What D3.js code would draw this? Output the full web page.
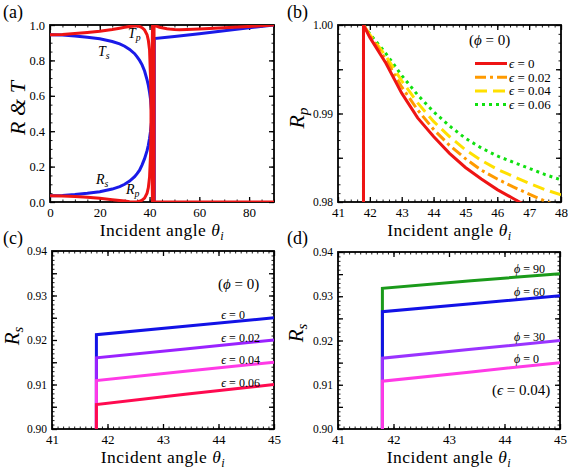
<!DOCTYPE html>
<html>
<head>
<meta charset="utf-8">
<script src="https://cdn.jsdelivr.net/npm/d3@7"></script>
<style>
body{margin:0;background:#fff}
svg text{font-family:"Liberation Serif","Times New Roman",serif;}
</style>
</head>
<body>
<script>
// SVG area
var svgWidth = 568;
var svgHeight = 470;

// ---------- (a) R & T, whole angle range ----------
var thetaA = [0, 5, 10, 15, 20, 25, 28, 30, 32, 34, 35, 36, 37, 38, 39, 39.5, 40, 40.4, 40.7, 41.0, 41.2];
var TsA = [0.945, 0.943, 0.938, 0.931, 0.922, 0.907, 0.893, 0.880, 0.862, 0.838, 0.820, 0.800, 0.775, 0.740, 0.690, 0.660, 0.620, 0.580, 0.530, 0.480, 0.440];
var RsA = [0.035, 0.037, 0.042, 0.049, 0.058, 0.073, 0.087, 0.100, 0.118, 0.143, 0.160, 0.180, 0.210, 0.245, 0.290, 0.320, 0.360, 0.400, 0.440, 0.480, 0.520];
var TpA = [0.945, 0.947, 0.952, 0.958, 0.965, 0.975, 0.982, 0.987, 0.992, 0.995, 0.995, 0.992, 0.985, 0.972, 0.945, 0.915, 0.860, 0.700, 0.450, 0.150, 0.000];
var RpA = [0.035, 0.034, 0.031, 0.027, 0.021, 0.013, 0.008, 0.005, 0.002, 0.000, 0.001, 0.004, 0.010, 0.022, 0.050, 0.080, 0.140, 0.270, 0.500, 0.800, 1.000];
// beyond the critical angle
var thetaRpPost = [41.8, 41.8, 42.4, 43, 44, 45, 46, 47, 48, 50, 52, 55, 60, 70, 80, 90];
var RpPost = [0, 1.0, 0.996, 0.992, 0.9874, 0.984, 0.9814, 0.979, 0.977, 0.974, 0.973, 0.974, 0.977, 0.984, 0.992, 1.0];
var thetaRsPost = [41.9, 41.9, 50, 60, 70, 80, 90];
var RsPost = [0, 0.923, 0.935, 0.951, 0.967, 0.984, 1.0];
var thetaTPost = [41.2, 90];
var TPost = [0, 0];

// ---------- (b) Rp near critical angle, phi = 0 ----------
var thetaB = [41.8, 41.8, 42, 42.5, 43, 43.5, 44, 44.5, 45, 45.5, 46, 46.5, 47, 47.5, 48];
var RpEps0 = [0.97, 1.0, 0.9986, 0.9957, 0.9923, 0.9895, 0.9874, 0.9855, 0.9839, 0.9826, 0.9814, 0.9804, 0.9794, 0.9786, 0.9778];
var RpEps2 = [0.97, 1.0, 0.9988, 0.9961, 0.9930, 0.9904, 0.9882, 0.9864, 0.9849, 0.9836, 0.9826, 0.9817, 0.9809, 0.9801, 0.9794];
var RpEps4 = [0.97, 1.0, 0.9989, 0.9965, 0.9937, 0.9912, 0.9891, 0.9874, 0.9859, 0.9847, 0.9837, 0.9829, 0.9821, 0.9814, 0.9808];
var RpEps6 = [0.97, 1.0, 0.9990, 0.9968, 0.9943, 0.9921, 0.9902, 0.9886, 0.9872, 0.9861, 0.9852, 0.9845, 0.9838, 0.9831, 0.9825];
var epsLabelsB = ["0", "0.02", "0.04", "0.06"];

// ---------- (c), (d) Rs near critical angle ----------
var thetaCD = [41.8, 41.8, 43.4, 45];
var RsEps0 = [0.899, 0.9212, 0.9231, 0.9250];
var RsEps2 = [0.899, 0.9160, 0.9180, 0.9200];
var RsEps4 = [0.899, 0.9109, 0.9130, 0.9150];
var RsEps6 = [0.899, 0.9055, 0.9078, 0.9100];
var epsLabelsC = ["0", "0.02", "0.04", "0.06"];
var RsPhi90 = [0.899, 0.9318, 0.9335, 0.9351];
var RsPhi60 = [0.899, 0.9265, 0.9283, 0.9301];
var RsPhi30 = [0.899, 0.9160, 0.9180, 0.9200];
var RsPhi0 = [0.899, 0.9108, 0.9129, 0.9150];
var phiLabelsD = ["90", "60", "30", "0"];

var svg = d3.select("body").append("svg")
  .attr("width", svgWidth)
  .attr("height", svgHeight);

// make a framed panel with inward ticks on all four sides
function makePanel(id, box, xDom, yDom, opt) {
  var x = d3.scaleLinear().domain(xDom).range([box.l, box.r]);
  var y = d3.scaleLinear().domain(yDom).range([box.b, box.t]);
  var g = svg.append("g");

  svg.append("clipPath").attr("id", "clip" + id)
    .append("rect").attr("x", box.l).attr("y", box.t)
    .attr("width", box.r - box.l).attr("height", box.b - box.t);

  var axes = [
    [d3.axisBottom(x), "translate(0," + box.b + ")", opt.xMajor, opt.xMinor, opt.xFmt],
    [d3.axisTop(x), "translate(0," + box.t + ")", opt.xMajor, opt.xMinor, null],
    [d3.axisLeft(y), "translate(" + box.l + ",0)", opt.yMajor, opt.yMinor, opt.yFmt],
    [d3.axisRight(y), "translate(" + box.r + ",0)", opt.yMajor, opt.yMinor, null]
  ];
  axes.forEach(function(a, i) {
    // minor ticks
    g.append("g").attr("transform", a[1])
      .call(a[0].tickValues(a[3]).tickSize(-2.5).tickFormat(""))
      .call(s => s.select(".domain").remove())
      .selectAll("line").attr("stroke-width", 0.9);
    // major ticks + labels
    var ax = g.append("g").attr("transform", a[1])
      .call(a[0].tickValues(a[2]).tickSize(-5).tickPadding(i < 2 ? 6 : 5)
        .tickFormat(a[4] ? a[4] : ""))
      .call(s => s.select(".domain").remove());
    ax.selectAll("line").attr("stroke-width", 1.3);
    ax.selectAll("text").attr("font-size", i < 2 ? opt.xFs : opt.yFs).attr("fill", "#000");
  });

  g.append("rect").attr("x", box.l).attr("y", box.t)
    .attr("width", box.r - box.l).attr("height", box.b - box.t)
    .attr("fill", "none").attr("stroke", "#000").attr("stroke-width", 1.8);

  var plot = svg.append("g").attr("clip-path", "url(#clip" + id + ")");
  return { x: x, y: y, plot: plot, box: box };
}

function drawLine(p, xs, ys, color, width, dash) {
  var line = d3.line().x(d => p.x(d[0])).y(d => p.y(d[1]));
  p.plot.append("path")
    .datum(d3.zip(xs, ys))
    .attr("d", line)
    .attr("fill", "none")
    .attr("stroke", color)
    .attr("stroke-width", width)
    .attr("stroke-dasharray", dash || null);
}

// text made of pieces: [string, "i" | "n" | "sub"]
function mathText(parent, x, y, parts, size, anchor, rotate) {
  var t = parent.append("text")
    .attr("x", x).attr("y", y)
    .attr("font-size", size)
    .attr("text-anchor", anchor || "start")
    .attr("fill", "#000");
  if (rotate) t.attr("transform", "rotate(-90," + x + "," + y + ")");
  var shift = 0;
  parts.forEach(function(pt) {
    var s = t.append("tspan").text(pt[0]);
    if (pt[1] === "i" || pt[1] === "sub") s.attr("font-style", "italic");
    if (pt[1] === "sub") {
      s.attr("font-size", size * 0.7).attr("dy", size * 0.2 - shift);
      shift = size * 0.2;
    } else if (shift) {
      s.attr("dy", -shift);
      shift = 0;
    }
  });
  return t;
}

function xLabel(p, baseY) {
  mathText(svg, (p.box.l + p.box.r) / 2, baseY,
    [["Incident angle ", "n"], ["\u03b8", "i"], ["i", "sub"]], 17.5, "middle")
    .attr("letter-spacing", 0.5);
}

// ---------- panel (a) ----------
var pa = makePanel("a", {l: 50, r: 274, t: 25, b: 202}, [0, 90], [0, 1], {
  xMajor: [0, 20, 40, 60, 80], xMinor: d3.range(0, 91, 5), xFmt: d3.format("d"), xFs: 13,
  yMajor: [0, 0.2, 0.4, 0.6, 0.8, 1.0], yMinor: d3.range(0, 1.001, 0.05), yFmt: d3.format(".1f"), yFs: 12.5
});
var blue = "#1a1ae8", red = "#ee1414";
drawLine(pa, thetaA, TsA, blue, 3);
drawLine(pa, thetaA, RsA, blue, 3);
drawLine(pa, thetaRsPost, RsPost, blue, 3);
drawLine(pa, thetaA, TpA, red, 3);
drawLine(pa, thetaA, RpA, red, 3);
drawLine(pa, thetaTPost, TPost, red, 3);
drawLine(pa, thetaRpPost, RpPost, red, 3);
mathText(svg, 128, 38, [["T", "i"], ["p", "sub"]], 14);
mathText(svg, 98, 56, [["T", "i"], ["s", "sub"]], 14);
mathText(svg, 96, 184, [["R", "i"], ["s", "sub"]], 14);
mathText(svg, 126, 194, [["R", "i"], ["p", "sub"]], 14);
mathText(svg, 25, 108, [["R", "i"], [" & ", "i"], ["T", "i"]], 22, "middle", true);
xLabel(pa, 236);

// ---------- panel (b) ----------
var pb = makePanel("b", {l: 338, r: 561, t: 25, b: 202}, [41, 48], [0.98, 1.0], {
  xMajor: d3.range(41, 48.01, 1), xMinor: d3.range(41, 48.01, 0.2), xFmt: d3.format("d"), xFs: 13,
  yMajor: [0.98, 0.985, 0.99, 0.995, 1.0], yMinor: d3.range(0.98, 1.0001, 0.001),
  yFmt: d => (Math.abs(d * 100 - Math.round(d * 100)) < 1e-6 ? d.toFixed(2) : ""), yFs: 11.5
});
var bColors = ["#ee1414", "#ff9a00", "#ffe000", "#10e010"];
var bDash = [null, "11,4,3,4", "12,6", "3,4"];
var bSeries = [RpEps0, RpEps2, RpEps4, RpEps6];
for (var i = 3; i >= 0; i--) drawLine(pb, thetaB, bSeries[i], bColors[i], 3, bDash[i]);
mathText(svg, 469, 45, [["(", "n"], ["\u03d5", "i"], [" = 0)", "n"]], 15);
epsLabelsB.forEach(function(lab, i) {
  var ly = 63.5 + i * 13.7;
  svg.append("line").attr("x1", 475).attr("x2", 507).attr("y1", ly).attr("y2", ly)
    .attr("stroke", bColors[i]).attr("stroke-width", 3).attr("stroke-dasharray", bDash[i]);
  mathText(svg, 509, ly + 4.5, [["\u03f5", "i"], [" = " + lab, "n"]], 13);
});
mathText(svg, 304, 118, [["R", "i"], ["p", "sub"]], 22, "middle", true);
xLabel(pb, 236);

// ---------- panel (c) ----------
var cdOpt = {
  xMajor: d3.range(41, 45.01, 1), xMinor: d3.range(41, 45.01, 0.1), xFmt: d3.format("d"), xFs: 13,
  yMajor: d3.range(0.90, 0.9401, 0.005), yMinor: d3.range(0.90, 0.9401, 0.001),
  yFmt: d => (Math.abs(d * 100 - Math.round(d * 100)) < 1e-6 ? d.toFixed(2) : ""), yFs: 11.5
};
var pc = makePanel("c", {l: 52, r: 274, t: 251, b: 429}, [41, 45], [0.90, 0.94], cdOpt);
var cColors = ["#1212e6", "#9a22ff", "#ff3ae6", "#ff0a50"];
var cSeries = [RsEps0, RsEps2, RsEps4, RsEps6];
cSeries.forEach((s, i) => drawLine(pc, thetaCD, s, cColors[i], 3));
cSeries.forEach(function(s, i) {
  var lt = 44.05;
  var v = s[2] + (s[3] - s[2]) * (lt - thetaCD[2]) / (thetaCD[3] - thetaCD[2]);
  mathText(svg, pc.x(lt), pc.y(v) - 3.5, [["\u03f5", "i"], [" = " + epsLabelsC[i], "n"]], 12);
});
mathText(svg, 218, 289, [["(", "n"], ["\u03d5", "i"], [" = 0)", "n"]], 15);
mathText(svg, 19, 336, [["R", "i"], ["s", "sub"]], 21, "middle", true);
xLabel(pc, 463);

// ---------- panel (d) ----------
var pd = makePanel("d", {l: 338, r: 560, t: 252, b: 429}, [41, 45], [0.90, 0.94], cdOpt);
var dColors = ["#1a9a1a", "#1212e6", "#9a33ff", "#ff3ae6"];
var dSeries = [RsPhi90, RsPhi60, RsPhi30, RsPhi0];
dSeries.forEach((s, i) => drawLine(pd, thetaCD, s, dColors[i], 3));
dSeries.forEach(function(s, i) {
  var lt = 44.17;
  var v = s[2] + (s[3] - s[2]) * (lt - thetaCD[2]) / (thetaCD[3] - thetaCD[2]);
  mathText(svg, pd.x(lt), pd.y(v) - 4, [["\u03d5", "i"], [" = " + phiLabelsD[i], "n"]], 12);
});
mathText(svg, 492, 395, [["(", "n"], ["\u03f5", "i"], [" = 0.04)", "n"]], 15);
mathText(svg, 303, 333, [["R", "i"], ["s", "sub"]], 21, "middle", true);
xLabel(pd, 463);

// panel letters
[["(a)", 3, 18], ["(b)", 287, 18], ["(c)", 3, 244], ["(d)", 287, 244]].forEach(function(l) {
  svg.append("text").attr("x", l[1]).attr("y", l[2]).attr("font-size", 18).text(l[0]);
});
</script>
</body>
</html>
